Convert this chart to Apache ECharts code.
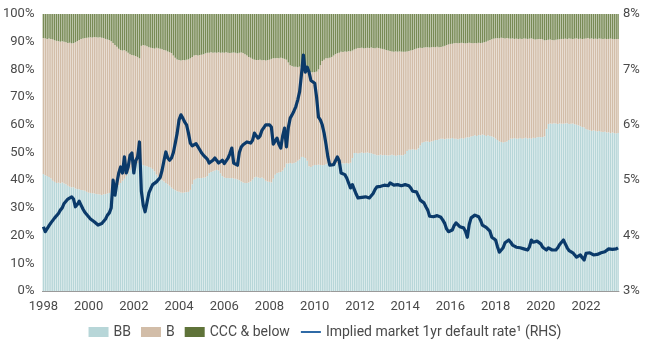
<!DOCTYPE html>
<html>
<head>
<meta charset="utf-8">
<title>Rating mix and implied default rate</title>
<script src="https://cdn.jsdelivr.net/npm/echarts@6/dist/echarts.min.js"></script>
<style>
  html, body { margin: 0; padding: 0; background: #fff; }
  #chart { width: 650px; height: 350px; }
</style>
</head>
<body>
<div id="chart"></div>
<script>
// monthly, Jan 1998 - Jun 2023
const firstYear = 1998
const yearTicks = ['1998', '2000', '2002', '2004', '2006', '2008', '2010', '2012', '2014', '2016', '2018', '2020', '2022']

// share of index, %
const bbShare = [
  42.2, 41.8, 41.5, 41.2, 40.6, 39.8, 39.4, 39.0, 39.1, 38.9, 39.2, 38.8, // 1998
  38.5, 38.0, 37.6, 37.4, 37.5, 37.0, 36.8, 36.7, 36.5, 36.4, 36.2, 35.8,
  35.5, 35.4, 35.3, 35.2, 35.0, 34.9, 34.8, 34.7, 34.9, 35.0, 35.2, 35.4, // 2000
  35.5, 36.0, 36.8, 37.5, 38.2, 39.0, 39.8, 40.5, 41.5, 42.5, 43.5, 44.5,
  45.5, 46.0, 46.2, 46.0, 45.8, 45.5, 45.2, 45.0, 44.8, 44.5, 44.0, 43.2, // 2002
  42.0, 41.2, 40.5, 40.0, 39.5, 39.0, 38.5, 38.0, 37.3, 36.8, 36.4, 36.0,
  35.8, 35.6, 35.5, 35.6, 35.7, 35.8, 36.5, 38.5, 40.2, 40.5, 40.8, 40.7, // 2004
  40.8, 40.9, 41.0, 41.5, 42.5, 43.0, 43.2, 43.5, 43.7, 43.5, 42.5, 41.5,
  41.0, 40.8, 40.8, 40.7, 40.8, 40.6, 40.5, 40.3, 40.0, 39.5, 39.2, 39.0, // 2006
  39.0, 39.2, 39.5, 40.2, 41.0, 41.2, 41.0, 40.8, 41.0, 40.5, 39.8, 39.5,
  39.4, 39.2, 40.5, 42.0, 42.6, 42.8, 43.0, 43.5, 44.5, 46.0, 46.0, 46.2, // 2008
  46.0, 46.2, 46.5, 47.0, 47.5, 48.4, 48.4, 48.0, 47.0, 45.0, 44.8, 45.2,
  45.5, 45.5, 45.6, 45.5, 45.4, 45.5, 45.8, 46.0, 46.0, 45.8, 46.0, 46.0, // 2010
  46.0, 46.2, 46.0, 46.1, 46.0, 46.2, 46.0, 46.3, 48.0, 49.8, 49.8, 49.6,
  49.8, 50.0, 49.8, 49.9, 50.0, 49.8, 49.7, 49.5, 49.3, 49.0, 49.0, 49.2, // 2012
  49.0, 49.1, 49.0, 48.9, 49.0, 49.2, 49.0, 48.8, 49.0, 49.1, 49.0, 49.0,
  49.5, 50.5, 51.0, 51.0, 51.2, 51.0, 51.0, 51.5, 52.5, 53.5, 53.8, 54.0, // 2014
  54.0, 53.8, 54.0, 54.2, 54.5, 54.5, 54.8, 55.0, 55.0, 54.8, 55.0, 55.0,
  55.0, 55.2, 55.0, 55.0, 54.8, 55.0, 55.2, 55.0, 55.3, 55.5, 55.5, 55.8, // 2016
  56.0, 56.2, 56.0, 56.3, 56.2, 56.5, 56.3, 56.0, 56.2, 56.0, 55.8, 55.5,
  55.0, 54.5, 54.0, 53.8, 53.6, 53.8, 54.0, 54.5, 55.0, 55.0, 55.2, 55.0, // 2018
  55.0, 55.2, 55.0, 55.1, 55.3, 55.0, 55.2, 55.0, 55.3, 55.2, 55.5, 55.6,
  55.5, 55.6, 55.8, 58.5, 60.3, 60.5, 60.4, 60.6, 60.5, 60.3, 60.5, 60.4, // 2020
  60.4, 60.5, 60.6, 60.3, 60.4, 60.5, 60.2, 60.0, 59.8, 59.5, 59.2, 59.0,
  58.5, 58.2, 58.0, 57.8, 58.0, 57.8, 57.6, 57.8, 57.5, 57.4, 57.5, 57.2, // 2022
  57.3, 57.0, 57.2, 57.0, 56.9, 57.0
]

const bShare = [
  49.1, 49.4, 49.5, 50.0, 50.4, 51.0, 51.1, 51.3, 51.1, 51.1, 51.0, 51.2, // 1998
  51.3, 51.5, 52.0, 52.0, 52.0, 52.8, 53.4, 53.9, 54.5, 54.8, 55.1, 55.6,
  56.0, 56.2, 56.2, 56.5, 56.6, 56.6, 56.8, 56.7, 56.4, 56.0, 55.6, 55.2, // 2000
  54.7, 53.5, 52.0, 50.7, 49.3, 48.0, 47.0, 46.5, 45.0, 43.5, 42.0, 40.7,
  39.5, 38.8, 38.3, 38.0, 42.7, 43.3, 43.4, 43.4, 43.2, 43.3, 43.7, 44.3, // 2002
  45.8, 46.4, 47.0, 47.3, 47.5, 47.8, 48.0, 48.2, 48.6, 48.2, 47.8, 47.6,
  47.6, 47.6, 47.9, 47.7, 47.8, 47.8, 47.5, 46.0, 44.8, 44.7, 44.2, 44.5, // 2004
  44.5, 44.6, 44.8, 44.5, 43.5, 43.2, 42.8, 42.6, 42.3, 42.7, 43.5, 44.6,
  45.0, 45.4, 45.2, 45.2, 45.2, 45.5, 45.5, 45.5, 46.0, 46.6, 46.7, 46.5, // 2006
  46.0, 45.3, 44.7, 43.6, 42.5, 42.2, 42.4, 42.7, 42.3, 42.9, 43.4, 43.9,
  44.1, 44.6, 43.5, 42.0, 41.5, 41.2, 41.2, 40.5, 39.3, 37.5, 36.5, 35.3, // 2008
  35.2, 34.8, 34.5, 33.8, 33.5, 32.4, 32.1, 32.0, 32.5, 34.2, 34.2, 33.8,
  33.5, 33.7, 34.4, 36.0, 37.6, 38.0, 38.2, 38.0, 38.2, 38.7, 39.0, 39.5, // 2010
  39.8, 39.8, 40.4, 40.2, 40.5, 40.2, 40.6, 40.2, 38.8, 37.4, 37.7, 38.1,
  37.9, 37.8, 37.8, 37.8, 37.8, 37.9, 38.2, 38.2, 38.3, 38.8, 38.7, 38.3, // 2012
  38.4, 38.1, 38.0, 37.9, 37.6, 37.3, 37.4, 37.7, 37.4, 37.4, 37.4, 37.4,
  36.9, 36.0, 35.6, 35.8, 35.8, 36.3, 36.5, 36.2, 35.3, 34.2, 34.1, 34.0, // 2014
  34.0, 34.1, 34.0, 33.9, 33.5, 33.7, 33.2, 33.1, 33.3, 33.7, 33.8, 34.0,
  34.2, 34.1, 34.4, 34.5, 34.6, 34.5, 34.4, 34.5, 34.1, 34.0, 34.1, 33.7, // 2016
  33.4, 33.3, 33.4, 33.3, 33.3, 33.1, 33.5, 34.0, 34.1, 34.6, 35.1, 35.6,
  36.2, 36.8, 37.2, 37.6, 37.7, 37.4, 37.3, 36.7, 36.1, 36.2, 35.8, 36.1, // 2018
  36.0, 35.9, 36.0, 36.1, 35.8, 36.0, 35.9, 36.2, 35.7, 35.6, 35.4, 35.4,
  35.5, 35.2, 34.7, 32.1, 30.4, 30.3, 30.2, 29.9, 30.2, 30.5, 30.4, 30.6, // 2020
  30.6, 30.6, 30.4, 30.9, 30.7, 30.5, 30.9, 31.2, 31.2, 31.6, 31.8, 32.1,
  32.7, 33.1, 33.1, 33.4, 33.0, 33.3, 33.4, 33.4, 33.6, 33.6, 33.6, 33.8, // 2022
  33.7, 34.1, 33.8, 33.9, 34.1, 34.0
]

const cccShare = [
  8.7, 8.8, 9.0, 8.8, 9.0, 9.2, 9.5, 9.7, 9.8, 10.0, 9.8, 10.0, // 1998
  10.2, 10.5, 10.4, 10.6, 10.5, 10.2, 9.8, 9.4, 9.0, 8.8, 8.7, 8.6,
  8.5, 8.4, 8.5, 8.3, 8.4, 8.5, 8.4, 8.6, 8.7, 9.0, 9.2, 9.4, // 2000
  9.8, 10.5, 11.2, 11.8, 12.5, 13.0, 13.2, 13.0, 13.5, 14.0, 14.5, 14.8,
  15.0, 15.2, 15.5, 16.0, 11.5, 11.2, 11.4, 11.6, 12.0, 12.2, 12.3, 12.5, // 2002
  12.2, 12.4, 12.5, 12.7, 13.0, 13.2, 13.5, 13.8, 14.1, 15.0, 15.8, 16.4,
  16.6, 16.8, 16.6, 16.7, 16.5, 16.4, 16.0, 15.5, 15.0, 14.8, 15.0, 14.8, // 2004
  14.7, 14.5, 14.2, 14.0, 14.0, 13.8, 14.0, 13.9, 14.0, 13.8, 14.0, 13.9,
  14.0, 13.8, 14.0, 14.1, 14.0, 13.9, 14.0, 14.2, 14.0, 13.9, 14.1, 14.5, // 2006
  15.0, 15.5, 15.8, 16.2, 16.5, 16.6, 16.6, 16.5, 16.7, 16.6, 16.8, 16.6,
  16.5, 16.2, 16.0, 16.0, 15.9, 16.0, 15.8, 16.0, 16.2, 16.5, 17.5, 18.5, // 2008
  18.8, 19.0, 19.0, 19.2, 19.0, 19.2, 19.5, 20.0, 20.5, 20.8, 21.0, 21.0,
  21.0, 20.8, 20.0, 18.5, 17.0, 16.5, 16.0, 16.0, 15.8, 15.5, 15.0, 14.5, // 2010
  14.2, 14.0, 13.6, 13.7, 13.5, 13.6, 13.4, 13.5, 13.2, 12.8, 12.5, 12.3,
  12.3, 12.2, 12.4, 12.3, 12.2, 12.3, 12.1, 12.3, 12.4, 12.2, 12.3, 12.5, // 2012
  12.6, 12.8, 13.0, 13.2, 13.4, 13.5, 13.6, 13.5, 13.6, 13.5, 13.6, 13.6,
  13.6, 13.5, 13.4, 13.2, 13.0, 12.7, 12.5, 12.3, 12.2, 12.3, 12.1, 12.0, // 2014
  12.0, 12.1, 12.0, 11.9, 12.0, 11.8, 12.0, 11.9, 11.7, 11.5, 11.2, 11.0,
  10.8, 10.7, 10.6, 10.5, 10.6, 10.5, 10.4, 10.5, 10.6, 10.5, 10.4, 10.5, // 2016
  10.6, 10.5, 10.6, 10.4, 10.5, 10.4, 10.2, 10.0, 9.7, 9.4, 9.1, 8.9,
  8.8, 8.7, 8.8, 8.6, 8.7, 8.8, 8.7, 8.8, 8.9, 8.8, 9.0, 8.9, // 2018
  9.0, 8.9, 9.0, 8.8, 8.9, 9.0, 8.9, 8.8, 9.0, 9.2, 9.1, 9.0,
  9.0, 9.2, 9.5, 9.4, 9.3, 9.2, 9.4, 9.5, 9.3, 9.2, 9.1, 9.0, // 2020
  9.0, 8.9, 9.0, 8.8, 8.9, 9.0, 8.9, 8.8, 9.0, 8.9, 9.0, 8.9,
  8.8, 8.7, 8.9, 8.8, 9.0, 8.9, 9.0, 8.8, 8.9, 9.0, 8.9, 9.0, // 2022
  9.0, 8.9, 9.0, 9.1, 9.0, 9.0
]

// implied market 1yr default rate, % (RHS)
const defaultRate = [
  4.16, 4.07, 4.10, 4.18, 4.23, 4.26, 4.32, 4.33, 4.40, 4.46, 4.50, 4.58, // 1998
  4.62, 4.66, 4.64, 4.70, 4.66, 4.52, 4.56, 4.62, 4.55, 4.48, 4.42, 4.38,
  4.34, 4.30, 4.33, 4.25, 4.22, 4.19, 4.18, 4.22, 4.19, 4.30, 4.37, 4.41, // 2000
  4.50, 5.00, 4.73, 4.95, 5.13, 5.24, 5.13, 5.42, 5.13, 5.24, 5.45, 5.49,
  5.13, 5.35, 5.42, 5.69, 4.80, 4.55, 4.43, 4.45, 4.77, 4.85, 4.92, 4.95, // 2002
  4.97, 5.00, 5.05, 5.18, 5.35, 5.51, 5.40, 5.36, 5.40, 5.50, 5.67, 5.85,
  6.09, 6.18, 6.12, 6.05, 6.00, 5.85, 5.67, 5.62, 5.60, 5.66, 5.69, 5.55, // 2004
  5.49, 5.45, 5.42, 5.38, 5.31, 5.34, 5.36, 5.40, 5.42, 5.31, 5.33, 5.36,
  5.30, 5.27, 5.40, 5.48, 5.58, 5.31, 5.29, 5.27, 5.50, 5.60, 5.64, 5.66, // 2006
  5.69, 5.68, 5.67, 5.72, 5.85, 5.80, 5.76, 5.80, 5.90, 5.95, 6.00, 6.00,
  6.00, 5.96, 5.65, 5.62, 5.76, 5.65, 5.58, 5.80, 5.94, 5.60, 5.95, 6.12, // 2008
  6.18, 6.25, 6.33, 6.45, 6.60, 6.92, 7.26, 6.95, 7.04, 6.95, 6.80, 6.77,
  6.75, 6.50, 6.14, 6.09, 6.00, 5.85, 5.65, 5.42, 5.27, 5.27, 5.28, 5.30, // 2010
  5.42, 5.35, 5.13, 5.15, 5.10, 5.04, 4.95, 4.86, 4.92, 4.95, 4.75, 4.68,
  4.70, 4.69, 4.68, 4.70, 4.70, 4.68, 4.70, 4.76, 4.83, 4.88, 4.88, 4.89, // 2012
  4.90, 4.91, 4.92, 4.90, 4.95, 4.93, 4.91, 4.91, 4.92, 4.91, 4.90, 4.91,
  4.92, 4.95, 4.90, 4.86, 4.80, 4.79, 4.79, 4.72, 4.64, 4.61, 4.59, 4.52, // 2014
  4.46, 4.35, 4.32, 4.34, 4.35, 4.36, 4.37, 4.33, 4.28, 4.22, 4.12, 4.07,
  4.08, 4.10, 4.18, 4.23, 4.20, 4.16, 4.15, 4.14, 4.08, 3.97, 4.20, 4.32, // 2016
  4.35, 4.37, 4.37, 4.34, 4.28, 4.19, 4.17, 4.15, 4.12, 4.08, 3.97, 3.94,
  3.92, 3.80, 3.70, 3.70, 3.78, 3.87, 3.90, 3.92, 3.88, 3.83, 3.80, 3.79, // 2018
  3.79, 3.78, 3.78, 3.76, 3.74, 3.74, 3.80, 3.92, 3.88, 3.87, 3.90, 3.92,
  3.85, 3.79, 3.76, 3.74, 3.78, 3.77, 3.74, 3.74, 3.74, 3.78, 3.84, 3.87, // 2020
  3.92, 3.85, 3.78, 3.73, 3.70, 3.69, 3.66, 3.61, 3.64, 3.65, 3.60, 3.56,
  3.68, 3.70, 3.69, 3.67, 3.65, 3.65, 3.66, 3.68, 3.69, 3.69, 3.71, 3.74, // 2022
  3.76, 3.78, 3.75, 3.74, 3.76, 3.78
]

const seriesNames = ['BB', 'B', 'CCC & below', 'Implied market 1yr default rate¹ (RHS)']

// month labels like 1998-01
const months = []
for (let i = 0; i < bbShare.length; i++) {
  const y = firstYear + Math.floor(i / 12)
  const m = (i % 12) + 1
  months.push(y + '-' + (m < 10 ? '0' + m : m))
}

const isYearTick = (idx, val) => yearTicks.indexOf(val.slice(0, 4)) >= 0 && val.slice(5) === '01'

const textColor = '#4a4a4a'
const fontFamily = 'Roboto, "Liberation Sans", sans-serif'

const chart = echarts.init(document.getElementById('chart'), null, { renderer: 'canvas' })

const option = {
  animation: false,
  textStyle: { fontFamily: fontFamily },
  grid: { left: 41, right: 31, top: 14, bottom: 59, containLabel: false },
  legend: {
    bottom: 6,
    left: 'center',
    itemWidth: 20,
    itemHeight: 10,
    itemGap: 10,
    textStyle: { color: textColor, fontSize: 14, fontFamily: fontFamily },
    data: [
      { name: seriesNames[0], icon: 'rect' },
      { name: seriesNames[1], icon: 'rect' },
      { name: seriesNames[2], icon: 'rect', itemStyle: { color: '#5f7339' } },
      // line only, no marker in the key
      { name: seriesNames[3], itemStyle: { opacity: 0 }, lineStyle: { color: '#2f6aa6', width: 2 } }
    ]
  },
  xAxis: {
    type: 'category',
    data: months,
    boundaryGap: true,
    axisLine: { lineStyle: { color: '#9a9a9a', width: 1 } },
    axisTick: { interval: isYearTick, alignWithLabel: true, length: 5, lineStyle: { color: '#9a9a9a' } },
    axisLabel: {
      interval: isYearTick,
      formatter: v => v.slice(0, 4),
      color: textColor,
      fontSize: 13,
      margin: 9
    }
  },
  yAxis: [
    {
      type: 'value',
      min: 0,
      max: 100,
      interval: 10,
      axisLine: { show: false },
      axisTick: { show: false },
      splitLine: { show: false },
      axisLabel: { formatter: '{value}%', color: textColor, fontSize: 13, margin: 8 }
    },
    {
      type: 'value',
      position: 'right',
      min: 3,
      max: 8,
      interval: 1,
      axisLine: { show: false },
      axisTick: { show: false },
      splitLine: { show: false },
      axisLabel: { formatter: '{value}%', color: textColor, fontSize: 13, margin: 4 }
    }
  ],
  series: [
    {
      name: seriesNames[0],
      type: 'bar',
      stack: 'mix',
      data: bbShare,
      barCategoryGap: '22%',
      itemStyle: { color: '#b7d6d8' }
    },
    {
      name: seriesNames[1],
      type: 'bar',
      stack: 'mix',
      data: bShare,
      itemStyle: { color: '#d2bda8' }
    },
    {
      name: seriesNames[2],
      type: 'bar',
      stack: 'mix',
      data: cccShare,
      itemStyle: { color: '#788a55' }
    },
    {
      name: seriesNames[3],
      type: 'line',
      yAxisIndex: 1,
      data: defaultRate,
      symbol: 'none',
      smooth: false,
      lineStyle: { color: '#0b3a6a', width: 3.2, join: 'round' },
      itemStyle: { color: '#0b3a6a' },
      z: 5
    }
  ]
}

chart.setOption(option)
</script>
</body>
</html>
